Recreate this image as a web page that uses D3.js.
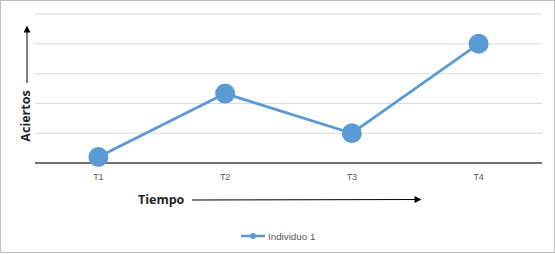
<!DOCTYPE html>
<html><head><meta charset="utf-8">
<script src="https://cdn.jsdelivr.net/npm/d3@7"></script>
<style>body{margin:0;background:#fff}svg{display:block}</style>
</head><body>
<script>
const categories = ["T1","T2","T3","T4"];
const values = [0.2, 2.33, 1.0, 4.0];
const seriesName = "Individuo 1";
const yTicks = [0,1,2,3,4,5];

const W=555,H=254;
const svg=d3.select("body").append("svg").attr("width",W).attr("height",H);
svg.append("rect").attr("x",0.5).attr("y",0.5).attr("width",W-1).attr("height",H-2)
  .attr("fill","#fff").attr("stroke","#bfbfbf");
const m={l:35,r:13,t:14,b:91};
const x=d3.scaleBand().domain(categories).range([m.l,W-m.r]);
const y=d3.scaleLinear().domain([0,5]).range([H-m.b,m.t]);
const g=svg.append("g");
g.selectAll("line.grid").data(yTicks.slice(1)).join("line")
  .attr("x1",m.l).attr("x2",W-m.r).attr("y1",d=>y(d)).attr("y2",d=>y(d))
  .attr("stroke","#d9d9d9").attr("stroke-width",1);
g.append("line").attr("x1",m.l).attr("x2",W-m.r).attr("y1",y(0)).attr("y2",y(0))
  .attr("stroke","#404040").attr("stroke-width",1.5);
const xa=svg.append("g").attr("transform",`translate(0,${y(0)})`)
  .call(d3.axisBottom(x).tickSize(0).tickPadding(11));
xa.select(".domain").remove();
xa.selectAll("text").attr("font-family","Liberation Sans, Arial").attr("font-size",9).attr("fill","#595959");
const cx=d=>x(d)+x.bandwidth()/2;
const line=d3.line().x((d,i)=>cx(categories[i])).y(d=>y(d));
svg.append("path").datum(values).attr("d",line).attr("fill","none")
  .attr("stroke","#5B9BD5").attr("stroke-width",2.75);
svg.selectAll("circle.pt").data(values).join("circle")
  .attr("cx",(d,i)=>cx(categories[i])).attr("cy",d=>y(d)).attr("r",10).attr("fill","#5B9BD5");
const defs=svg.append("defs");
defs.append("marker").attr("id","arr").attr("viewBox","0 0 10 10").attr("refX",5).attr("refY",5)
  .attr("markerWidth",7).attr("markerHeight",7).attr("orient","auto-start-reverse")
  .append("path").attr("d","M0,0L10,5L0,10z").attr("fill","#000");
// Y axis title
svg.append("text").attr("transform","translate(30,116) rotate(-90)").attr("text-anchor","middle")
  .attr("font-family","Open Sans, DejaVu Sans").attr("font-weight","bold").attr("font-size",12.5)
  .attr("fill","#262626").text("Aciertos");
svg.append("line").attr("x1",27).attr("x2",27).attr("y1",83).attr("y2",29)
  .attr("stroke","#000").attr("stroke-width",1).attr("marker-end","url(#arr)");
// X axis title
svg.append("text").attr("x",138).attr("y",204)
  .attr("font-family","Open Sans, DejaVu Sans").attr("font-weight","bold").attr("font-size",12.5)
  .attr("fill","#262626").text("Tiempo");
svg.append("line").attr("x1",192).attr("x2",418).attr("y1",200).attr("y2",199.5)
  .attr("stroke","#000").attr("stroke-width",1).attr("marker-end","url(#arr)");
// legend
const lg=svg.append("g").attr("transform","translate(241,236)");
lg.append("line").attr("x1",0).attr("x2",24).attr("y1",0).attr("y2",0).attr("stroke","#5B9BD5").attr("stroke-width",2.5);
lg.append("circle").attr("cx",12).attr("cy",0).attr("r",3).attr("fill","#5B9BD5");
lg.append("text").attr("x",27).attr("y",3.5).attr("font-family","Liberation Sans, Arial").attr("font-size",9.8)
  .attr("fill","#595959").text(seriesName);
</script>
</body></html>
